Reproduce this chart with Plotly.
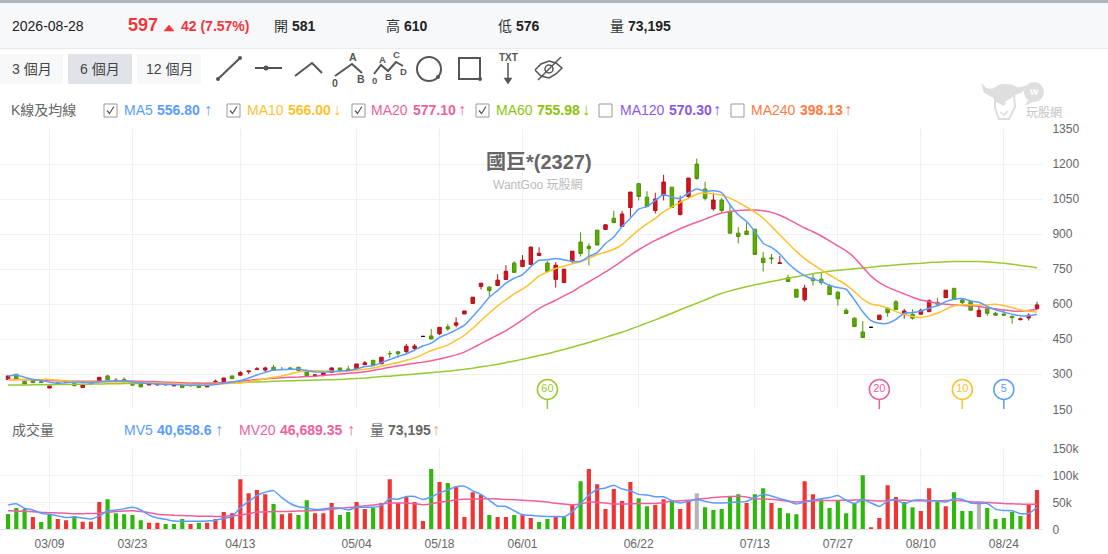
import plotly.graph_objects as go

# Candles, one row of ten bars per line
opens = [278, 300, 270, 273, 268, 241, 264, 264, 261, 243,
         260, 268, 293, 272, 278, 256, 258, 254, 254, 254,
         250, 257, 258, 255, 246, 268, 268, 293, 296, 311,
         320, 318, 330, 321, 327, 330, 311, 293, 296, 308,
         327, 322, 323, 341, 360, 345, 389, 396, 397, 410,
         462, 464, 473, 503, 510, 558, 603, 676, 673, 680,
         706, 776, 761, 770, 808, 776, 706, 693, 784, 866,
         848, 917, 920, 968, 933, 1014, 1116, 1058, 1001, 1066,
         1101, 984, 1061, 1200, 1093, 1008, 1046, 996, 904, 913,
         921, 797, 798, 774, 713, 664, 619, 711, 707, 677,
         651, 574, 540, 481, 501, 534, 583, 610, 557, 557,
         557, 568, 608, 628, 668, 618, 611, 547, 581, 561,
         558, 548, 534, 541, 581]
highs = [293, 300, 270, 274, 274, 250, 264, 270, 261, 257,
         261, 287, 297, 283, 287, 263, 258, 263, 265, 261,
         258, 257, 258, 255, 255, 277, 284, 293, 314, 314,
         331, 333, 340, 331, 331, 330, 320, 301, 306, 330,
         327, 336, 344, 357, 360, 373, 400, 400, 430, 430,
         464, 494, 501, 516, 544, 571, 630, 690, 678, 728,
         767, 784, 810, 848, 844, 784, 780, 750, 827, 908,
         861, 917, 940, 1000, 1000, 1080, 1118, 1084, 1077, 1154,
         1101, 1064, 1140, 1223, 1124, 1077, 1054, 1026, 930, 950,
         921, 823, 815, 807, 726, 664, 683, 730, 737, 686,
         656, 583, 544, 528, 502, 553, 587, 618, 580, 578,
         581, 621, 627, 660, 668, 625, 615, 593, 590, 568,
         578, 551, 543, 561, 610]
lows = [278, 278, 258, 262, 263, 241, 257, 264, 251, 243,
        256, 268, 276, 271, 267, 250, 246, 254, 254, 254,
        250, 243, 250, 243, 246, 264, 268, 281, 293, 301,
        320, 308, 317, 320, 318, 316, 293, 290, 291, 307,
        316, 314, 323, 341, 338, 345, 371, 371, 391, 404,
        461, 451, 468, 486, 501, 558, 603, 663, 633, 680,
        706, 736, 761, 770, 808, 740, 671, 693, 775, 804,
        766, 853, 920, 949, 933, 974, 1044, 1018, 988, 1044,
        1014, 980, 1051, 1133, 1044, 1000, 990, 904, 860, 898,
        813, 740, 773, 774, 697, 630, 611, 680, 683, 641,
        594, 560, 504, 457, 500, 534, 546, 577, 538, 534,
        555, 568, 600, 628, 620, 597, 574, 547, 550, 551,
        551, 517, 530, 530, 576]
closes = [293, 278, 258, 264, 265, 250, 257, 270, 251, 257,
          259, 287, 276, 274, 267, 254, 246, 263, 265, 261,
          258, 243, 250, 243, 255, 270, 284, 281, 307, 314,
          323, 327, 317, 320, 321, 316, 293, 297, 306, 327,
          316, 318, 344, 349, 338, 373, 388, 388, 420, 421,
          462, 451, 501, 494, 520, 571, 630, 690, 658, 703,
          741, 736, 788, 844, 818, 740, 767, 750, 827, 817,
          838, 853, 940, 949, 986, 1080, 1061, 1018, 1050, 1123,
          1014, 1041, 1140, 1138, 1053, 1046, 1001, 904, 890, 898,
          813, 778, 795, 777, 697, 630, 669, 701, 693, 641,
          623, 560, 504, 457, 501, 553, 564, 577, 571, 540,
          574, 615, 600, 660, 620, 607, 574, 574, 561, 553,
          553, 543, 537, 553, 597]

ma5 = [292, 297, 287, 278, 273, 266, 261, 264, 267, 266,
       264, 267, 270, 271, 271, 267, 263, 260, 258, 257,
       256, 254, 253, 253, 253, 256, 261, 267, 273, 284,
       297, 308, 318, 320, 321, 321, 316, 310, 310, 311,
       314, 316, 323, 333, 336, 350, 363, 376, 387, 404,
       421, 433, 458, 473, 490, 510, 547, 587, 630, 658,
       690, 711, 727, 761, 788, 790, 796, 790, 783, 784,
       804, 821, 860, 888, 933, 968, 1007, 1018, 1044, 1070,
       1058, 1053, 1076, 1093, 1083, 1086, 1078, 1026, 983, 954,
       911, 861, 843, 815, 775, 745, 722, 707, 698, 680,
       671, 664, 618, 568, 530, 518, 518, 535, 561, 564,
       571, 583, 593, 611, 621, 624, 614, 608, 590, 576,
       566, 557, 550, 550, 556.8]
ma10 = [277, 277, 278, 278, 278, 278, 275, 271, 269, 267,
        266, 266, 267, 267, 267, 266, 265, 264, 263, 261,
        260, 258, 257, 256, 256, 257, 259, 261, 264, 268,
        274, 281, 287, 293, 301, 310, 314, 316, 314, 313,
        311, 314, 317, 321, 327, 335, 343, 350, 360, 370,
        385, 401, 413, 426, 445, 467, 497, 530, 562, 593,
        619, 644, 664, 690, 721, 738, 753, 763, 773, 781,
        797, 812, 822, 835, 855, 887, 918, 944, 967, 996,
        1016, 1036, 1054, 1071, 1076, 1073, 1067, 1054, 1036, 1016,
        994, 968, 933, 897, 861, 826, 795, 770, 747, 725,
        704, 683, 654, 622, 601, 594, 583, 568, 557, 547,
        543, 550, 561, 578, 593, 597, 597, 597, 597, 600,
        594, 586, 575, 571, 566]
ma20 = [278, 278, 277, 276, 275, 273, 272, 271, 270, 270,
        270, 270, 270, 271, 271, 271, 270, 269, 268, 266,
        265, 264, 262, 261, 261, 262, 264, 267, 270, 274,
        278, 280, 283, 285, 287, 288, 290, 292, 295, 298,
        301, 304, 307, 311, 317, 323, 330, 336, 342, 347,
        352, 358, 365, 374, 383, 395, 413, 431, 450, 468,
        487, 509, 533, 558, 581, 600, 617, 636, 654, 676,
        696, 717, 738, 761, 785, 810, 833, 854, 873, 890,
        907, 923, 938, 951, 964, 978, 990, 997, 1001, 1003,
        1003, 1000, 993, 981, 964, 945, 926, 910, 892, 871,
        850, 828, 799, 759, 720, 692, 673, 658, 644, 630,
        618, 611, 604, 600, 597, 594, 593, 590, 584, 580,
        575, 571, 570, 573, 577]
ma60 = [254, 254, 254, 255, 255, 255, 256, 256, 257, 257,
        258, 258, 259, 259, 260, 260, 261, 262, 263, 263,
        263, 262, 262, 262, 262, 262, 263, 263, 264, 266,
        267, 268, 270, 271, 272, 273, 274, 275, 276, 277,
        278, 280, 282, 284, 287, 290, 292, 295, 298, 301,
        304, 307, 310, 313, 317, 321, 326, 332, 337, 343,
        350, 357, 364, 372, 380, 388, 397, 406, 416, 426,
        436, 447, 458, 469, 480, 493, 506, 520, 533, 547,
        561, 576, 590, 604, 618, 633, 647, 657, 666, 675,
        683, 690, 697, 704, 711, 717, 724, 730, 736, 741,
        745, 748, 752, 755, 758, 762, 765, 768, 771, 773,
        775, 778, 780, 782, 783, 783, 783, 783, 781, 779,
        775, 771, 766, 761, 756]

# Volume in thousands
volume = [28.4, 39.5, 38, 23, 13.6, 26.5, 19, 17, 24.7, 14,
          14, 50.6, 56, 30, 28, 26.5, 17, 12, 12, 10,
          10, 19, 10, 12, 12, 19, 32, 30, 93, 67,
          73, 65, 47, 28, 30, 26.5, 54, 30, 30, 49,
          26.5, 32, 50.6, 37.6, 39.5, 49, 93, 49, 60, 50.6,
          15.4, 112, 88, 86, 80, 23, 69, 64, 26.5, 23,
          23, 26.5, 26.5, 21, 13.6, 19, 23, 23, 47, 89.5,
          112, 84, 37.6, 75, 52.5, 88, 58, 43, 45, 56,
          52.5, 37.6, 52.5, 67, 41, 36, 37.6, 60, 65, 49,
          65, 76.5, 49, 39.5, 30, 28, 89.5, 65, 56, 39.5,
          52.5, 30, 49, 100.6, 4, 21, 82, 60, 50.6, 41,
          34, 76.5, 50.6, 43, 69, 34, 34, 50.6, 39.5, 19,
          21, 32, 24.7, 47, 73.195]
vol_dir = list("gggrggrrgr" "rrgggggrrg" "ggrgrrrrrr" "rrgrrggrrr" "ggrrgrrrrr"
               "rgrgrrrrgr" "rgrrggrgrg" "rrrrrrggrr" "grrngggggr" "ggrgggrrgg"
               "ggggrrrrgg" "rrgrgggngg" "gggrr")
mv5 = [45, 47.5, 39, 36, 30, 28, 25, 22, 23, 21,
       19, 25, 34, 36, 38, 41, 36, 26.5, 21, 18.5,
       15.4, 15, 15, 15, 15.4, 17, 20, 23.5, 40, 52,
       63, 69, 72, 59, 48, 42, 40, 37, 38, 40,
       39.5, 36, 41, 41, 41, 44, 57, 56, 61, 61,
       55.5, 60, 68, 73, 79, 80, 71.6, 65, 54, 43,
       42.6, 34.5, 27, 26, 24.7, 24, 24, 23.5, 32.7, 48,
       63.6, 74, 77, 82, 75, 71.6, 65, 64, 60.5, 60.5,
       53, 49, 51.6, 55.5, 52, 49, 49, 50, 50.6, 52,
       59, 65, 62, 57, 53, 47, 50.6, 54, 57, 59,
       63, 54, 48, 55.5, 49, 42.6, 52, 55.5, 47, 53.7,
       55, 53.7, 52.5, 51, 57, 55.5, 49, 48, 48, 37.6,
       35, 34.5, 29, 29.6, 40.66]
mv20 = [34.5, 34, 33.5, 32.5, 31.5, 31, 30.5, 30, 29, 29,
        29.5, 30, 32, 33, 34, 34.5, 33, 31, 28, 27,
        26, 25.5, 25, 24.5, 24.5, 24, 24, 25, 26.5, 29,
        32, 32.5, 33, 33, 33.5, 34, 34.5, 35, 36, 37.5,
        39, 40.5, 42, 44, 45, 47, 49, 49, 49, 47.5,
        45.6, 47, 50.6, 52, 55, 56, 56, 57, 57, 56.5,
        55.5, 55, 54, 53, 52, 50.6, 48.5, 47, 45.6, 47,
        51, 50, 49, 47, 47, 47.5, 48, 48, 48, 50,
        52.5, 53, 54, 56, 57.5, 59, 60, 61, 61.7, 60,
        57, 56.5, 56, 54, 52, 51, 52, 53, 53.5, 53.5,
        53.7, 54, 54.5, 55, 53.5, 52.5, 53.5, 54.5, 54, 53,
        53, 52.5, 53, 53.5, 54, 53, 51.5, 50.6, 50, 49,
        48, 47.5, 47, 46.5, 46.69]

date_ticks = [5, 15, 28, 42, 52, 62, 76, 90, 100, 110, 120]
date_labels = ["03/09", "03/23", "04/13", "05/04", "05/18", "06/01", "06/22", "07/13", "07/27", "08/10", "08/24"]
price_ticks = [150, 300, 450, 600, 750, 900, 1050, 1200, 1350]
vol_ticks = [0, 50, 100, 150]
vol_labels = ["0", "50k", "100k", "150k"]
balloon_bars = [65, 105, 115, 120]
balloon_names = ["60", "20", "10", "5"]

W, H = 1108, 554
FONT = "Liberation Sans, Noto Sans CJK TC, sans-serif"
BLUE, ORANGE, PINK, LIME = "#5b9dff", "#ffc12e", "#ee5f9f", "#9ac92f"
GRID = "#f0f0f0"
LOGO = "#dedede"
bars = list(range(len(closes)))

fig = go.Figure()


# Pixel helpers for the page furniture around the chart
def px(x):
    return x / W


def py(y):
    return 1 - y / H


annotations = []
shapes = []


def label(x, y, text, size=13, color="#333", anchor="left"):
    annotations.append(dict(xref="paper", yref="paper", x=px(x), y=py(y), text=text, showarrow=False,
                            xanchor=anchor, yanchor="middle", align="left", borderpad=0,
                            font=dict(family=FONT, size=size, color=color)))


def rect(x0, y0, x1, y1, fill="rgba(0,0,0,0)", line=None, width=1):
    shapes.append(dict(type="rect", xref="paper", yref="paper", x0=px(x0), x1=px(x1), y0=py(y0), y1=py(y1),
                       fillcolor=fill, line=dict(color=line or "rgba(0,0,0,0)", width=width if line else 0)))


def poly(points, color="#555", width=2, fill=None):
    path = "M" + " L".join(f"{px(a):.5f},{py(b):.5f}" for a, b in points)
    if fill:
        path += " Z"
    shapes.append(dict(type="path", xref="paper", yref="paper", path=path, fillcolor=fill,
                       line=dict(color=color, width=width)))


def dot(x, y, r, fill="#555", line=None, width=0):
    shapes.append(dict(type="circle", xref="paper", yref="paper", x0=px(x - r), x1=px(x + r),
                       y0=py(y + r), y1=py(y - r), fillcolor=fill,
                       line=dict(color=line or fill, width=width)))


# Candles, flat ones are black
moved = [i for i in bars if opens[i] != closes[i]]
flat = [i for i in bars if opens[i] == closes[i]]
fig.add_trace(go.Candlestick(x=moved, open=[opens[i] for i in moved], high=[highs[i] for i in moved],
                             low=[lows[i] for i in moved], close=[closes[i] for i in moved],
                             increasing=dict(line=dict(color="#b5101a", width=1), fillcolor="#d2161f"),
                             decreasing=dict(line=dict(color="#4d9400", width=1), fillcolor="#5cab00"),
                             whiskerwidth=0, hoverinfo="skip", xaxis="x", yaxis="y"))
fig.add_trace(go.Candlestick(x=flat, open=[opens[i] for i in flat], high=[highs[i] for i in flat],
                             low=[lows[i] for i in flat], close=[closes[i] for i in flat],
                             increasing=dict(line=dict(color="#111", width=1), fillcolor="#111"),
                             decreasing=dict(line=dict(color="#111", width=1), fillcolor="#111"),
                             whiskerwidth=0, hoverinfo="skip", xaxis="x", yaxis="y"))

for values, colour in [(ma60, LIME), (ma20, PINK), (ma10, ORANGE), (ma5, BLUE)]:
    fig.add_trace(go.Scatter(x=bars, y=values, mode="lines", line=dict(color=colour, width=1.5, shape="spline", smoothing=0.6),
                             hoverinfo="skip", xaxis="x", yaxis="y"))

# Balloons that mark where each average window starts
for bar, name, colour in zip(balloon_bars, balloon_names, [LIME, PINK, ORANGE, BLUE]):
    fig.add_trace(go.Scatter(x=[bar, bar], y=[150, 192], mode="lines", line=dict(color=colour, width=1.5),
                             hoverinfo="skip", xaxis="x", yaxis="y"))
    fig.add_trace(go.Scatter(x=[bar], y=[235], mode="markers+text", text=[name], textposition="middle center",
                             marker=dict(size=20, color="white", line=dict(color=colour, width=1.5)),
                             textfont=dict(family=FONT, size=11, color=colour),
                             hoverinfo="skip", xaxis="x", yaxis="y"))

vol_colours = {"r": "#f03434", "g": "#2fb80c", "n": "#b5b5b5"}
fig.add_trace(go.Bar(x=bars, y=volume, marker=dict(color=[vol_colours[d] for d in vol_dir], line=dict(width=0)),
                     width=0.5, hoverinfo="skip", xaxis="x2", yaxis="y2"))
fig.add_trace(go.Scatter(x=bars, y=mv20, mode="lines", line=dict(color=PINK, width=1.5, shape="spline", smoothing=0.5),
                         hoverinfo="skip", xaxis="x2", yaxis="y2"))
fig.add_trace(go.Scatter(x=bars, y=mv5, mode="lines", line=dict(color=BLUE, width=1.5, shape="spline", smoothing=0.5),
                         hoverinfo="skip", xaxis="x2", yaxis="y2"))

# Header band
rect(0, 0, W, 3, fill="#aeb4bb")
rect(0, 3, W, 48, fill="#f7f8fa")
rect(0, 48, W, 49, fill="#e8eaec")
label(11, 26, "2026-08-28", 14, "#222")
label(127, 25, "<b>597</b>", 18, "#f2343d")
poly([(164, 31), (174, 31), (169, 25)], "#f2343d", 0.5, fill="#f2343d")
label(180, 26, "<b>42 (7.57%)</b>", 14, "#f2343d")
for x, name, value in [(273, "開", "581"), (385, "高", "610"), (497, "低", "576"), (609, "量", "73,195")]:
    label(x, 26, name, 14, "#333")
    label(x + 18, 26, f"<b>{value}</b>", 14, "#222")

# Period buttons
for x0, x1, fill, text in [(0, 63, "#f7f8fa", "3 個月"), (68, 132, "#e0e4e8", "6 個月"), (137, 201, "#f7f8fa", "12 個月")]:
    rect(x0, 54, x1, 84, fill=fill)
    label((x0 + x1) / 2, 69, text, 14, "#444", anchor="center")

# Drawing tools
poly([(218, 79), (240, 58)])
dot(218, 79, 2)
dot(240, 58, 2)
poly([(255, 68), (282, 68)])
dot(266, 68, 2.5)
poly([(295, 76), (312, 63), (322, 73)])
poly([(335, 76), (352, 64), (362, 73)])
for x, y, text in [(353, 57, "A"), (335, 83, "0"), (361, 79, "B")]:
    label(x, y, f"<b>{text}</b>", 10.5, "#555", anchor="center")
poly([(374, 74), (381, 65), (388, 71), (396, 62), (403, 66)])
for x, y, text in [(382, 60, "A"), (396, 54, "C"), (403, 72, "D"), (374, 81, "0"), (388, 77, "B")]:
    label(x, y, f"<b>{text}</b>", 9.5, "#555", anchor="center")
dot(429, 69, 12, fill="rgba(0,0,0,0)", line="#555", width=2)
dot(438, 77, 2)
rect(459, 58, 480, 79, line="#555", width=2)
dot(480, 79, 2)
label(508, 57, "<b>TXT</b>", 10, "#555", anchor="center")
poly([(508, 63), (508, 80)], width=1.5)
poly([(504, 78), (512, 78), (508, 84)], "#555", 0.5, fill="#555")
poly([(535, 70), (541, 64), (549, 61), (556, 63), (562, 68), (556, 74), (549, 78), (541, 76), (535, 70)], width=1.5)
dot(549, 69, 4, fill="rgba(0,0,0,0)", line="#555", width=1.5)
poly([(538, 80), (561, 57)], width=1.5)

# Moving average legend
label(10, 110, "K線及均線", 14, "#666")
legend = [(104, 123, 156, 203, "MA5", "556.80", "↑", BLUE, True),
          (227, 246, 287, 332, "MA10", "566.00", "↓", ORANGE, True),
          (352, 370, 412, 457, "MA20", "577.10", "↑", PINK, True),
          (476, 495, 536, 581, "MA60", "755.98", "↓", "#8cc30c", True),
          (599, 619, 668, 712, "MA120", "570.30", "↑", "#8a56e8", False),
          (731, 750, 799, 843, "MA240", "398.13", "↑", "#ff7a45", False)]
for box, x_name, x_value, x_arrow, name, value, arrow, colour, ticked in legend:
    rect(box, 104, box + 13, 117, fill="white", line="#999", width=1)
    if ticked:
        poly([(box + 3, 110.5), (box + 5.5, 113.5), (box + 10, 106.5)], "#555", 1.2)
    label(x_name, 110, name, 14, colour)
    label(x_value, 110, f"<b>{value}</b>", 14, colour)
    label(x_arrow, 109, arrow, 16, colour)

# Mascot watermark
poly([(982, 84), (984, 92), (992, 97), (1014, 95), (1022, 92), (1027, 86), (1018, 88), (1012, 85), (1000, 85),
      (993, 89), (987, 89)], LOGO, 1, fill=LOGO)
dot(1004, 95, 11, fill=LOGO)
poly([(995, 100), (1001, 103), (1014, 95), (1015, 107), (1009, 119), (999, 119), (995, 108)], LOGO, 2, fill="white")
dot(1003, 103, 2.5, fill=LOGO)
poly([(1000, 112), (1004, 115), (1008, 111)], LOGO, 1.5)
dot(1034, 92, 10, fill=LOGO)
poly([(1029, 99), (1026, 105), (1034, 101)], LOGO, 1, fill=LOGO)
label(1034, 92, "<b>W</b>", 9, "white", anchor="center")
label(1044, 113, "玩股網", 12, "#c4c4c4", anchor="center")

# Chart title
label(539, 162, "<b>國巨*(2327)</b>", 20, "#666", anchor="center")
label(538, 185, "WantGoo 玩股網", 12, "#bbb", anchor="center")

# Volume legend
label(11, 430, "成交量", 14, "#666")
label(123, 430, "MV5", 14, BLUE)
label(156, 430, "<b>40,658.6</b>", 14, BLUE)
label(214, 429, "↑", 16, BLUE)
label(238, 430, "MV20", 14, PINK)
label(279, 430, "<b>46,689.35</b>", 14, PINK)
label(346, 429, "↑", 16, PINK)
label(369, 430, "量", 14, "#666")
label(387, 430, "<b>73,195</b>", 14, "#666")
label(431, 429, "↑", 16, "#f5a45b")

axis_range = [-0.964, 124.6]
x_domain = [0, 1042 / W]
tick_font = dict(family=FONT, size=12, color="#666")
fig.update_layout(
    width=W, height=H, margin=dict(l=0, r=0, t=0, b=0, autoexpand=False),
    paper_bgcolor="white", plot_bgcolor="white", showlegend=False,
    boxgap=0.4, dragmode=False,
    xaxis=dict(domain=x_domain, range=axis_range, anchor="y", rangeslider=dict(visible=False),
               tickmode="array", tickvals=date_ticks, ticktext=date_labels, showticklabels=False,
               showgrid=True, gridcolor=GRID, zeroline=False, fixedrange=True),
    yaxis=dict(domain=[1 - 409.3 / H, 1 - 129 / H], range=[150, 1350], side="right", anchor="x",
               tickmode="array", tickvals=price_ticks, showgrid=True, gridcolor=GRID, zeroline=False,
               ticks="outside", ticklen=7, tickcolor="rgba(0,0,0,0)", tickfont=tick_font, fixedrange=True),
    xaxis2=dict(domain=x_domain, range=axis_range, anchor="y2", matches="x",
                tickmode="array", tickvals=date_ticks, ticktext=date_labels, tickfont=tick_font,
                showgrid=True, gridcolor=GRID, zeroline=False, showline=True, linecolor="#e2e2e2",
                ticks="outside", ticklen=3, tickcolor="rgba(0,0,0,0)", fixedrange=True),
    yaxis2=dict(domain=[1 - 529.3 / H, 1 - 448.7 / H], range=[0, 150], side="right", anchor="x2",
                tickmode="array", tickvals=vol_ticks, ticktext=vol_labels, showgrid=True, gridcolor=GRID,
                zeroline=False, ticks="outside", ticklen=7, tickcolor="rgba(0,0,0,0)", tickfont=tick_font,
                fixedrange=True),
    annotations=annotations, shapes=shapes,
)

fig.write_html("out.html", post_script="document.body.style.margin='0';", config=dict(displayModeBar=False))
